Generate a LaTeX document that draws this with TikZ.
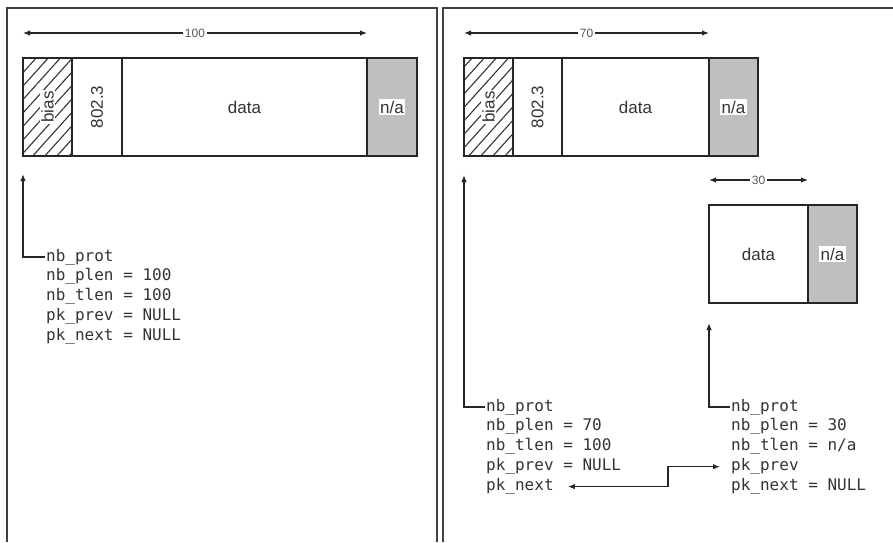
\documentclass[tikz,border=0pt]{standalone}
\usepackage{fontspec}
\setmainfont{Liberation Sans}
\newfontfamily\codefont{DejaVu Sans Mono}
\usetikzlibrary{arrows.meta,positioning,patterns.meta}
\setlength{\fboxsep}{1.5pt}

\begin{document}
\begin{tikzpicture}[x=1pt,y=-1pt,>={Latex[length=7pt,width=5.5pt]},
  cell/.style={rectangle, draw=black!85, line width=1.5pt, minimum height=98pt, inner sep=0pt, outer sep=0pt, font=\fontsize{17}{20}\selectfont, text=black!80},
  hatch/.style={cell, pattern={Lines[angle=48,distance=9pt,line width=1.1pt]}, pattern color=black!80},
  pad/.style={cell, fill=black!25},
  fld/.style={font=\codefont\fontsize{16}{19.5}\selectfont, text=black!80, inner xsep=1pt, inner ysep=0pt, text height=13.75pt, text depth=5.75pt},
  dimline/.style={<->, line width=1.2pt, draw=black!85},
  ptr/.style={->, line width=1.3pt, draw=black!85},
  len/.style={fill=white, inner sep=1.5pt, font=\fontsize{12}{14}\selectfont, text=black!65},
  panel/.style={line width=1.3pt, draw=black!75}]

\useasboundingbox (0,0) rectangle (893,542);

% frames
\draw[panel] (7,542) -- (7,8) -- (437,8) -- (437,542);
\draw[panel] (443,542) -- (443,8) -- (893,8);

% single buffer
\node (bias1) [hatch, minimum width=49pt, anchor=north west] at (23,58) {\rotatebox{90}{\colorbox{white}{bias}}};
\node (eth1) [cell, minimum width=50pt, right=0pt of bias1] {\rotatebox{90}{802.3}};
\node (data1) [cell, minimum width=245pt, right=0pt of eth1] {data};
\node (na1) [pad, minimum width=50pt, right=0pt of data1] {\colorbox{white}{n/a}};

\coordinate (l1a) at ([yshift=25pt]bias1.north west);
\coordinate (l1b) at ([yshift=25pt]data1.north east);
\draw[dimline] (l1a) -- node (len1) [len] {100} (l1b);

\node (prot1) [fld, anchor=west] at (45,257) {nb\_prot};
\node (plen1) [fld, below=0pt of prot1.south west, anchor=north west] {nb\_plen = 100};
\node (tlen1) [fld, below=0pt of plen1.south west, anchor=north west] {nb\_tlen = 100};
\node (prev1) [fld, below=0pt of tlen1.south west, anchor=north west] {pk\_prev = NULL};
\node (next1) [fld, below=0pt of prev1.south west, anchor=north west] {pk\_next = NULL};

\draw[ptr] (prot1.west) -| ([yshift=-18pt]bias1.south west);

% split: head buffer
\node (bias2) [hatch, minimum width=49pt, anchor=north west] at (464,58) {\rotatebox{90}{\colorbox{white}{bias}}};
\node (eth2) [cell, minimum width=49pt, right=0pt of bias2] {\rotatebox{90}{802.3}};
\node (data2) [cell, minimum width=147pt, right=0pt of eth2] {data};
\node (na2) [pad, minimum width=49pt, right=0pt of data2] {\colorbox{white}{n/a}};

\coordinate (l2a) at ([yshift=25pt]bias2.north west);
\coordinate (l2b) at ([yshift=25pt]data2.north east);
\draw[dimline] (l2a) -- node (len2) [len] {70} (l2b);

% split: tail buffer
\node (data3) [cell, minimum width=99pt, anchor=north west] at (709,205) {data};
\node (na3) [pad, minimum width=49pt, right=0pt of data3] {\colorbox{white}{n/a}};

\coordinate (l3a) at ([yshift=25pt]data3.north west);
\coordinate (l3b) at ([yshift=25pt]data3.north east);
\draw[dimline] (l3a) -- node (len3) [len] {30} (l3b);

\node (prot2) [fld, anchor=west] at (485,407) {nb\_prot};
\node (plen2) [fld, below=0pt of prot2.south west, anchor=north west] {nb\_plen = 70};
\node (tlen2) [fld, below=0pt of plen2.south west, anchor=north west] {nb\_tlen = 100};
\node (prev2) [fld, below=0pt of tlen2.south west, anchor=north west] {pk\_prev = NULL};
\node (next2) [fld, below=0pt of prev2.south west, anchor=north west] {pk\_next};

\node (prot3) [fld, anchor=west] at (730,407) {nb\_prot};
\node (plen3) [fld, below=0pt of prot3.south west, anchor=north west] {nb\_plen = 30};
\node (tlen3) [fld, below=0pt of plen3.south west, anchor=north west] {nb\_tlen = n/a};
\node (prev3) [fld, below=0pt of tlen3.south west, anchor=north west] {pk\_prev};
\node (next3) [fld, below=0pt of prev3.south west, anchor=north west] {pk\_next = NULL};

\draw[ptr] (prot2.west) -| ([yshift=-19pt]bias2.south west);
\draw[ptr] (prot3.west) -| ([yshift=-20pt]data3.south west);

\coordinate (jog) at (668,0);
\draw[ptr,<->] ([xshift=13pt]next2.east) -| (jog |- prev3.west) -- ([xshift=-10pt]prev3.west);

\end{tikzpicture}
\end{document}
